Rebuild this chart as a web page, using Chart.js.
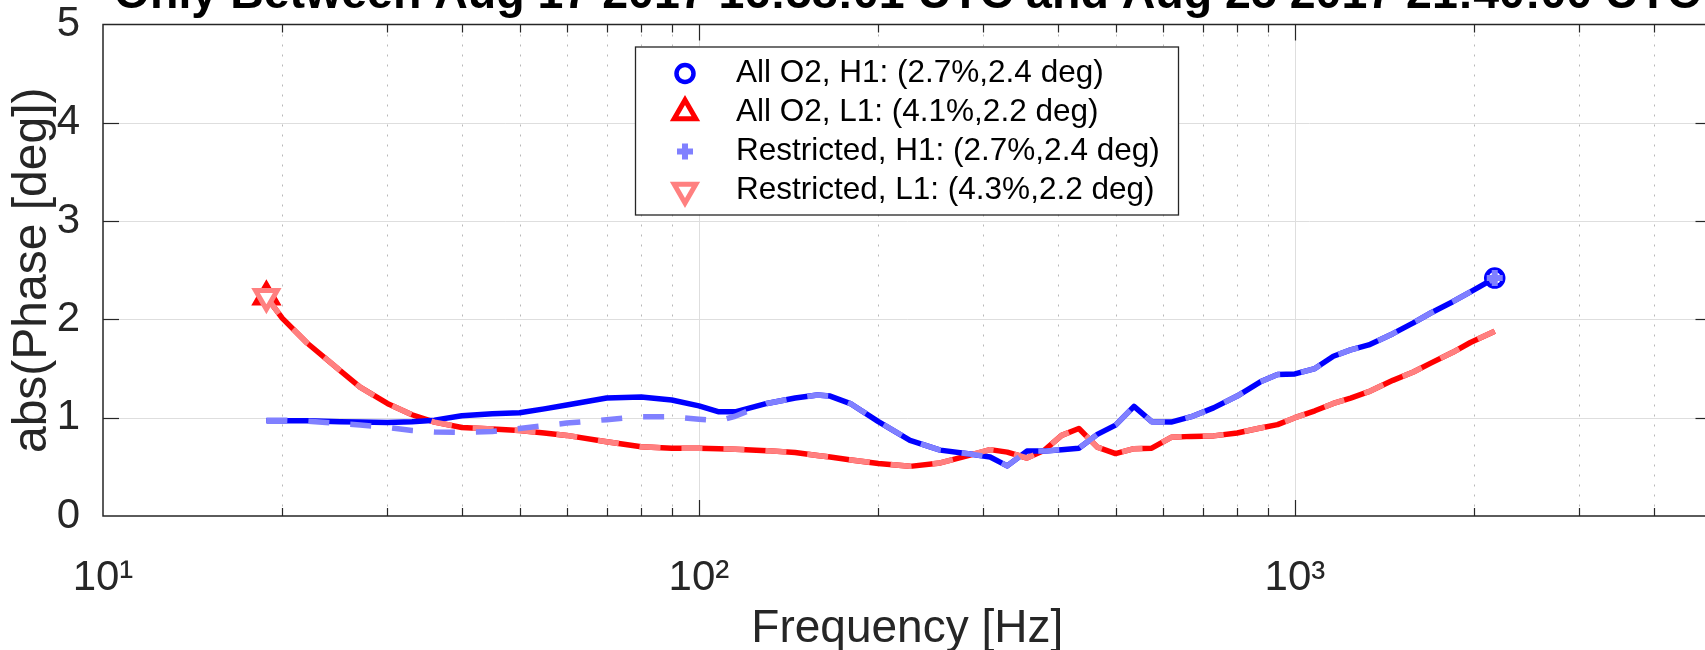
<!DOCTYPE html>
<html>
<head>
<meta charset="utf-8">
<script src="https://cdn.jsdelivr.net/npm/chart.js@4.4.0/dist/chart.umd.min.js"></script>
<style>
html, body { margin: 0; padding: 0; overflow: hidden; background: #fff; width: 1705px; height: 650px; }
#wrap { position: absolute; left: 0; top: -30px; width: 1729px; height: 680px; }
</style>
</head>
<body>
<div id="wrap"><canvas id="chart" width="1729" height="680"></canvas></div>
<script>
// Phase residual vs frequency

const chartTitle = 'Only Between Aug 17 2017 16:58:01 UTC and Aug 25 2017 21:40:00 UTC';
const seriesLabels = [
    'All O2, H1: (2.7%,2.4 deg)',
    'All O2, L1: (4.1%,2.2 deg)',
    'Restricted, H1: (2.7%,2.4 deg)',
    'Restricted, L1: (4.3%,2.2 deg)'
];

const freqHz = [18.8, 20, 22, 25, 27, 30, 33, 36, 40, 45,
    50, 55, 60, 70, 80, 90, 100, 108, 115, 130,
    145, 158, 166, 180, 200, 226, 254, 285, 308, 329,
    355, 380, 406, 434, 466, 500, 537, 575, 620, 670,
    730, 800, 875, 935, 1000, 1080, 1160, 1240, 1330, 1460,
    1580, 1690, 1840, 1970, 2164];

const h1All = [0.97, 0.97, 0.97, 0.96, 0.955, 0.95, 0.96, 0.975, 1.02, 1.04,
    1.05, 1.09, 1.13, 1.20, 1.21, 1.18, 1.12, 1.06, 1.06, 1.145,
    1.20, 1.23, 1.22, 1.14, 0.96, 0.77, 0.67, 0.63, 0.60, 0.51,
    0.66, 0.66, 0.675, 0.69, 0.83, 0.925, 1.115, 0.96, 0.955, 1.01,
    1.10, 1.22, 1.365, 1.44, 1.445, 1.50, 1.625, 1.69, 1.74, 1.855,
    1.965, 2.065, 2.18, 2.28, 2.42];

const l1All = [2.23, 2.01, 1.76, 1.48, 1.31, 1.145, 1.03, 0.955, 0.90, 0.885,
    0.87, 0.845, 0.82, 0.755, 0.705, 0.69, 0.69, 0.685, 0.68, 0.665,
    0.645, 0.615, 0.60, 0.57, 0.535, 0.505, 0.54, 0.62, 0.675, 0.65,
    0.59, 0.67, 0.82, 0.89, 0.70, 0.635, 0.685, 0.69, 0.80, 0.81,
    0.815, 0.845, 0.895, 0.93, 1.00, 1.07, 1.145, 1.20, 1.265, 1.38,
    1.465, 1.555, 1.665, 1.765, 1.88];

const h1Restricted = [0.975, 0.975, 0.965, 0.94, 0.925, 0.90, 0.87, 0.855, 0.85, 0.86,
    0.89, 0.92, 0.945, 0.98, 1.01, 1.01, 0.985, 0.97, 1.015, 1.145,
    1.20, 1.23, 1.22, 1.14, 0.96, 0.77, 0.67, 0.63, 0.60, 0.51,
    0.66, 0.66, 0.675, 0.69, 0.83, 0.925, 1.115, 0.96, 0.955, 1.01,
    1.10, 1.22, 1.365, 1.44, 1.445, 1.50, 1.625, 1.69, 1.74, 1.855,
    1.965, 2.065, 2.18, 2.28, 2.42];

const l1Restricted = [2.23, 2.01, 1.76, 1.48, 1.31, 1.145, 1.03, 0.955, 0.90, 0.885,
    0.87, 0.845, 0.82, 0.755, 0.705, 0.69, 0.69, 0.685, 0.68, 0.665,
    0.645, 0.615, 0.60, 0.57, 0.535, 0.505, 0.54, 0.62, 0.675, 0.65,
    0.59, 0.67, 0.82, 0.89, 0.70, 0.635, 0.685, 0.69, 0.80, 0.81,
    0.815, 0.845, 0.895, 0.93, 1.00, 1.07, 1.145, 1.20, 1.265, 1.38,
    1.465, 1.555, 1.665, 1.765, 1.88];

const yTickValues = [0, 1, 2, 3, 4, 5];
const decadeSup = { 1: '\u00b9', 2: '\u00b2', 3: '\u00b3' };

const FONT = "'Liberation Sans', Arial, Helvetica, sans-serif";
const AXIS_COLOR = '#262626';

Chart.defaults.font.family = FONT;

function toPoints(values) {
    return freqHz.map((f, i) => ({ x: f, y: values[i] }));
}

// markers only at the peak of each curve
function makeSet(label, values, color, dashed, style, rotation, radius, markerWidth, fill) {
    const peak = values.indexOf(Math.max(...values));
    return {
        label: label,
        data: toPoints(values),
        borderColor: color,
        borderWidth: 5.5,
        borderDash: dashed ? [21, 21] : [],
        borderCapStyle: 'butt',
        borderJoinStyle: 'round',
        tension: 0,
        fill: false,
        pointStyle: style,
        pointRotation: rotation,
        pointBorderColor: color,
        pointBackgroundColor: fill,
        pointBorderWidth: markerWidth,
        pointRadius: ctx => ctx.dataIndex === peak ? radius : 0,
        pointHoverRadius: 0,
        markerSize: radius,
        order: dashed ? 0 : 1
    };
}

// MATLAB style box, grid and inward ticks
const matlabAxes = {
    id: 'matlabAxes',
    beforeDatasetsDraw(chart) {
        const { ctx, chartArea: a, scales: { x, y } } = chart;
        const minor = [], major = [];
        for (let e = 1; e <= 3; e++) {
            for (let k = 1; k <= 9; k++) {
                const v = k * Math.pow(10, e);
                if (v <= 10 || v >= 5000) continue;
                (k === 1 ? major : minor).push(v);
            }
        }
        const line = (x1, y1, x2, y2) => {
            ctx.beginPath(); ctx.moveTo(x1, y1); ctx.lineTo(x2, y2); ctx.stroke();
        };
        ctx.save();
        ctx.lineWidth = 1;
        ctx.strokeStyle = '#b8b8b8';
        ctx.setLineDash([2, 8]);
        minor.forEach(v => {
            const px = Math.round(x.getPixelForValue(v)) + 0.5;
            line(px, a.top, px, a.bottom);
        });
        ctx.setLineDash([]);
        ctx.strokeStyle = '#dedede';
        major.forEach(v => {
            const px = Math.round(x.getPixelForValue(v)) + 0.5;
            line(px, a.top, px, a.bottom);
        });
        yTickValues.slice(1, -1).forEach(v => {
            const py = Math.round(y.getPixelForValue(v)) + 0.5;
            line(a.left, py, a.right, py);
        });

        ctx.strokeStyle = AXIS_COLOR;
        ctx.lineWidth = 1.5;
        ctx.strokeRect(a.left, a.top, a.right - a.left, a.bottom - a.top);
        ctx.lineWidth = 1.2;
        minor.forEach(v => {
            const px = Math.round(x.getPixelForValue(v)) + 0.5;
            line(px, a.bottom, px, a.bottom - 8);
            line(px, a.top, px, a.top + 8);
        });
        major.forEach(v => {
            const px = Math.round(x.getPixelForValue(v)) + 0.5;
            line(px, a.bottom, px, a.bottom - 16);
            line(px, a.top, px, a.top + 16);
        });
        yTickValues.slice(1, -1).forEach(v => {
            const py = Math.round(y.getPixelForValue(v)) + 0.5;
            line(a.left, py, a.left + 16, py);
            line(a.right, py, a.right - 16, py);
        });
        ctx.restore();
    }
};

// legend box drawn inside the axes
const boxLegend = {
    id: 'boxLegend',
    afterDraw(chart) {
        const { ctx, chartArea: a } = chart;
        const left = 635, top = a.top + 22, w = 543, h = 168;
        ctx.save();
        ctx.fillStyle = '#fff';
        ctx.fillRect(left, top, w, h);
        ctx.strokeStyle = AXIS_COLOR;
        ctx.lineWidth = 1.3;
        ctx.strokeRect(left + 0.5, top + 0.5, w, h);
        ctx.font = '31.5px ' + FONT;
        ctx.textBaseline = 'middle';
        ctx.textAlign = 'left';
        chart.data.datasets.forEach((ds, i) => {
            const cy = top + 27 + i * 39;
            ctx.strokeStyle = ds.pointBorderColor;
            ctx.fillStyle = ds.pointBackgroundColor;
            ctx.lineWidth = ds.pointBorderWidth;
            ctx.setLineDash([]);
            Chart.helpers.drawPoint(ctx, {
                pointStyle: ds.pointStyle,
                rotation: ds.pointRotation,
                radius: ds.markerSize,
                borderWidth: ds.pointBorderWidth
            }, left + 50, cy);
            ctx.fillStyle = '#000';
            ctx.fillText(ds.label, left + 101, cy);
        });
        ctx.restore();
    }
};

const ctx = document.getElementById('chart').getContext('2d');
new Chart(ctx, {
    type: 'line',
    data: {
        datasets: [
            makeSet(seriesLabels[0], h1All, '#0000ff', false, 'circle', 0, 8.5, 4.5, 'rgba(255,255,255,0)'),
            makeSet(seriesLabels[1], l1All, '#ff0000', false, 'triangle', 0, 12.5, 5, '#ffffff'),
            makeSet(seriesLabels[2], h1Restricted, '#8080ff', true, 'cross', 0, 8, 6, '#8080ff'),
            makeSet(seriesLabels[3], l1Restricted, '#ff8080', true, 'triangle', 180, 12.5, 5, '#ffffff')
        ]
    },
    options: {
        responsive: false,
        devicePixelRatio: 1,
        animation: false,
        events: [],
        layout: { padding: { left: 0, right: 1, top: 0, bottom: 0 } },
        scales: {
            x: {
                type: 'logarithmic',
                min: 10,
                max: 5000,
                grid: { display: false },
                border: { display: false },
                ticks: {
                    autoSkip: false,
                    maxRotation: 0,
                    minRotation: 0,
                    padding: 29,
                    color: AXIS_COLOR,
                    font: { size: 42, lineHeight: 1.2 },
                    callback: function(value) {
                        const e = Math.log10(value);
                        if (Math.abs(e - Math.round(e)) > 1e-9) return '';
                        return '10' + decadeSup[Math.round(e)];
                    }
                },
                title: {
                    display: true,
                    text: 'Frequency [Hz]',
                    color: AXIS_COLOR,
                    font: { size: 46, lineHeight: 0.9 },
                    padding: { top: 0, bottom: 0 }
                },
                afterFit: function(scale) {
                    scale.height = 134;
                    scale.paddingLeft = 0;
                    scale.paddingRight = 0;
                }
            },
            y: {
                min: 0,
                max: 5,
                grid: { display: false },
                border: { display: false },
                afterBuildTicks: function(scale) {
                    scale.ticks = yTickValues.map(v => ({ value: v }));
                },
                ticks: {
                    padding: 15,
                    color: AXIS_COLOR,
                    font: { size: 42, lineHeight: 1.2 }
                },
                title: {
                    display: true,
                    text: 'abs(Phase [deg])',
                    color: AXIS_COLOR,
                    font: { size: 48, lineHeight: 1 },
                    padding: { top: 9, bottom: 0 }
                },
                afterFit: function(scale) { scale.width = 103; }
            }
        },
        plugins: {
            legend: { display: false },
            tooltip: { enabled: false },
            title: {
                display: true,
                text: chartTitle,
                fullSize: false,
                color: '#000',
                font: { size: 46.5, weight: 'bold', lineHeight: 1 },
                padding: { top: 2, bottom: 6 }
            }
        }
    },
    plugins: [matlabAxes, boxLegend]
});
</script>
</body>
</html>
